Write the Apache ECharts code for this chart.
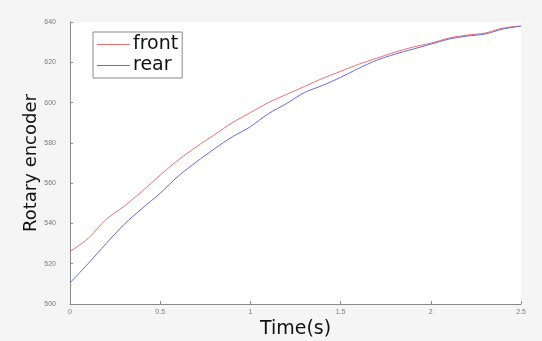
<!DOCTYPE html>
<html>
<head>
<meta charset="utf-8">
<script src="https://cdn.jsdelivr.net/npm/echarts@6/dist/echarts.min.js"></script>
<style>
  html, body { margin: 0; padding: 0; background: #f5f5f5; }
  #chart { width: 542px; height: 341px; }
</style>
</head>
<body>
<div id="chart"></div>
<script>
// time (s) and encoder readings
const time = [0, 0.1, 0.2, 0.3, 0.4, 0.5, 0.6, 0.7, 0.8, 0.9, 1.0, 1.1, 1.2,
  1.3, 1.4, 1.5, 1.6, 1.7, 1.8, 1.9, 2.0, 2.1, 2.2, 2.3, 2.4, 2.5];
const front = [526, 532.5, 542, 548.5, 556, 564, 571.5, 578, 584, 590, 595, 600, 604,
  608, 612, 615.5, 619, 622, 625, 627.5, 629.5, 632, 633.5, 634.5, 637, 638];
const rear = [510.5, 520, 530, 539.5, 547.5, 555, 563.5, 570.5, 577, 583, 588, 594.5, 599.5,
  605, 608.5, 612.5, 617, 621, 624, 626.5, 629, 631.5, 633, 634, 636.5, 638];
const xTicks = [0, 0.5, 1, 1.5, 2, 2.5];
const yTicks = [500, 520, 540, 560, 580, 600, 620, 640];

const chart = echarts.init(document.getElementById('chart'));

function pairs(ys) {
  return time.map((t, i) => [t, ys[i]]);
}

const axisLine = {lineStyle: {color: '#8a8a8a', width: 1}};
const tickLabel = {color: '#7a7a7a', fontSize: 7, fontFamily: 'Liberation Sans'};

chart.setOption({
  backgroundColor: '#f5f5f5',
  animation: false,
  grid: {
    left: 70, right: 21, top: 22, bottom: 37,
    outerBoundsMode: 'none',
    show: true, backgroundColor: '#ffffff', borderWidth: 0
  },
  legend: {
    orient: 'vertical',
    left: 93, top: 32,
    data: ['front', 'rear'],
    icon: 'rect',
    itemWidth: 33, itemHeight: 1,
    itemGap: 2,
    padding: [3, 4, 3, 4],
    backgroundColor: '#ffffff',
    borderColor: '#8a8a8a', borderWidth: 1,
    textStyle: {fontSize: 19, lineHeight: 19, color: '#111', fontFamily: 'DejaVu Sans', padding: [0, 0, 0, -2]}
  },
  xAxis: {
    type: 'value',
    min: 0, max: 2.5, interval: 0.5,
    name: 'Time(s)',
    nameLocation: 'middle',
    nameGap: 16,
    nameMoveOverlap: false,
    nameTextStyle: {fontSize: 19, color: '#111', fontFamily: 'DejaVu Sans'},
    axisLine: axisLine,
    axisTick: {show: true, inside: true, length: 3, lineStyle: {color: '#8a8a8a'}},
    axisLabel: Object.assign({margin: 5, formatter: v => xTicks.includes(v) ? String(v) : ''}, tickLabel),
    splitLine: {show: false}
  },
  yAxis: {
    type: 'value',
    min: 500, max: 640, interval: 20,
    name: 'Rotary encoder',
    nameLocation: 'middle',
    nameGap: 30,
    nameMoveOverlap: false,
    nameTextStyle: {fontSize: 18, color: '#111', fontFamily: 'DejaVu Sans'},
    axisLine: Object.assign({show: true}, axisLine),
    axisTick: {show: true, inside: true, length: 3, lineStyle: {color: '#8a8a8a'}},
    axisLabel: Object.assign({margin: 14, formatter: v => yTicks.includes(v) ? String(v) : ''}, tickLabel),
    splitLine: {show: false}
  },
  series: [
    {
      name: 'front',
      type: 'line',
      data: pairs(front),
      showSymbol: false,
      smooth: 0.3,
      lineStyle: {color: '#ec6f73', width: 1},
      itemStyle: {color: '#ec6f73'}
    },
    {
      name: 'rear',
      type: 'line',
      data: pairs(rear),
      showSymbol: false,
      smooth: 0.3,
      lineStyle: {color: '#6a68dc', width: 1},
      itemStyle: {color: '#6a68dc'}
    }
  ]
});
</script>
</body>
</html>
